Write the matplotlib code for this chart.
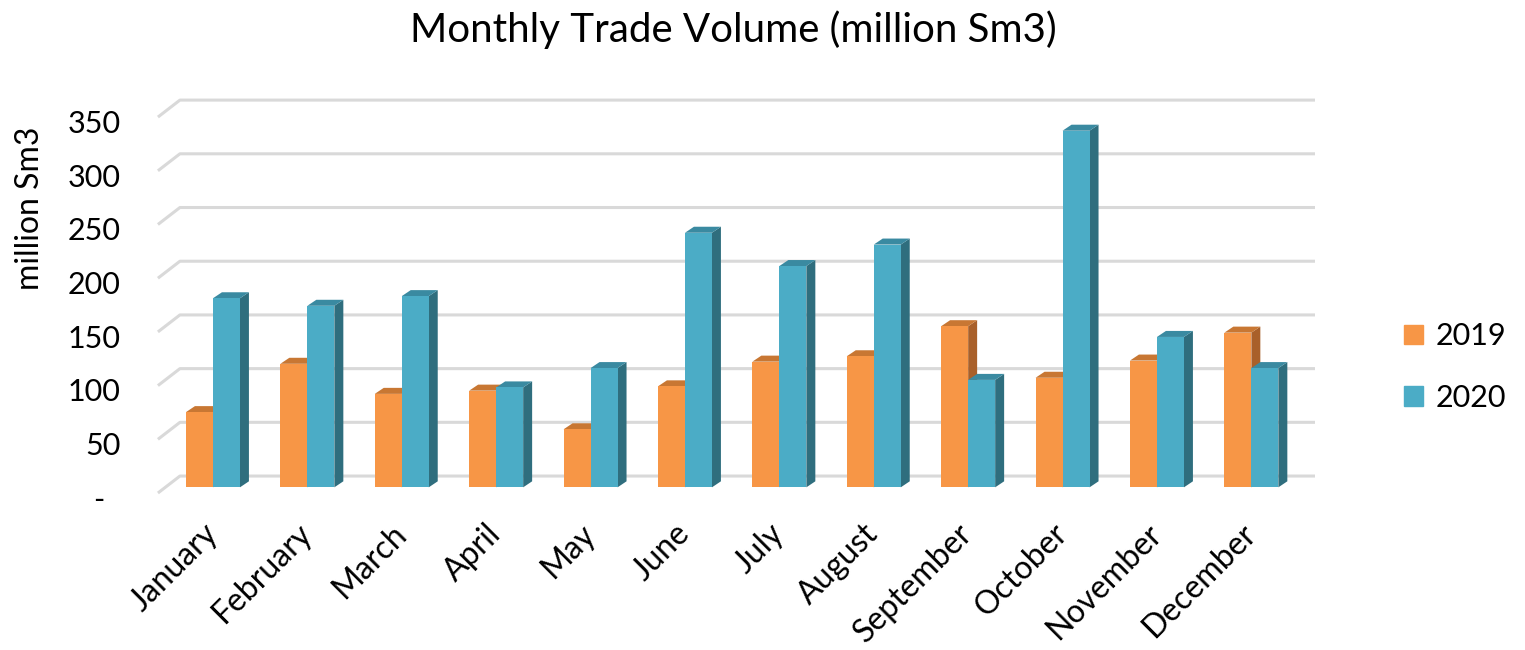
import matplotlib
matplotlib.use("Agg")
import matplotlib.pyplot as plt
import matplotlib.transforms as mtransforms
from matplotlib.patches import Polygon, Patch
import numpy as np

plt.rcParams['font.family'] = ['Lato', 'DejaVu Sans']

months = ["January", "February", "March", "April", "May", "June", "July",
          "August", "September", "October", "November", "December"]
vol_2019 = [70, 115, 87, 90, 54, 94, 117, 122, 150, 102, 118, 144]
vol_2020 = [176, 169, 178, 93, 111, 237, 206, 226, 100, 332, 140, 111]
series_names = ["2019", "2020"]
yticks = [0, 50, 100, 150, 200, 250, 300, 350]
ytick_labels = ["-  ", "50", "100", "150", "200", "250", "300", "350"]

front = {"2019": "#F79646", "2020": "#4BACC6"}
side = {"2019": "#A9602A", "2020": "#2F6E7E"}
top = {"2019": "#C87733", "2020": "#3A8AA1"}

W, H = 1525, 650
fig = plt.figure(figsize=(W / 100, H / 100), dpi=100)
ax = fig.add_axes([150 / W, 1 - 500 / H, 1180 / W, 410 / H])
ax.set_xlim(-0.667, 11.833)
ax.set_ylim(-11.8, 369.9)
for s in ax.spines.values():
    s.set_visible(False)

bw = 0.286      # bar width in category units
ddx = 0.095     # depth offset (category units)
ddy = 5.6       # depth offset (value units)

# back-wall gridlines with floor diagonal
gx_front, gx_back, gx_right = -0.583, -0.35, 11.674
gy_front, gy_back = -5.3, 10.5
for v in yticks:
    ax.plot([gx_front, gx_back, gx_right], [v + gy_front, v + gy_back, v + gy_back],
            color="#D9D9D9", lw=2.2, zorder=1, solid_capstyle="butt")

x = np.arange(len(months))
for name, vals, off in [("2019", vol_2019, -bw / 2), ("2020", vol_2020, bw / 2)]:
    for xi, v in zip(x, vals):
        xl = xi + off - bw / 2
        xr = xi + off + bw / 2
        ax.add_patch(Polygon([(xr, 0), (xr, v), (xr + ddx, v + ddy), (xr + ddx, ddy)],
                             closed=True, fc=side[name], ec="none", zorder=3))
        ax.add_patch(Polygon([(xl, v), (xr, v), (xr + ddx, v + ddy), (xl + ddx, v + ddy)],
                             closed=True, fc=top[name], ec="none", zorder=3))
    ax.bar(x + off, vals, width=bw, color=front[name], zorder=4)
    for p in ax.patches[-len(vals):]:
        p.set_zorder(3)

ax.set_yticks(yticks)
ax.set_yticklabels(ytick_labels, fontsize=22)
ax.tick_params(axis="y", length=0, pad=21)
shift = mtransforms.ScaledTranslation(0, -10 / 100, fig.dpi_scale_trans)
for lab in ax.get_yticklabels():
    lab.set_transform(lab.get_transform() + shift)

ax.set_xticks(x)
ax.set_xticklabels(months, fontsize=23, rotation=45, ha="right", va="center",
                   rotation_mode="anchor")
ax.tick_params(axis="x", length=0, pad=21)

fig.text(30 / W, 1 - 208 / H, "million Sm3", rotation=90, fontsize=23,
         ha="center", va="center")
fig.text(733 / W, 1 - 30 / H, "Monthly Trade Volume (million Sm3)", fontsize=29,
         ha="center", va="center")

handles = [Patch(color=front[n]) for n in series_names]
fig.legend(handles, series_names, loc="center left",
           bbox_to_anchor=(1404 / W, 1 - 367 / H), frameon=False, fontsize=22,
           handlelength=0.62, handleheight=0.62, handletextpad=0.4,
           labelspacing=1.1, borderpad=0, borderaxespad=0)

fig.savefig("out.png", dpi=100)
